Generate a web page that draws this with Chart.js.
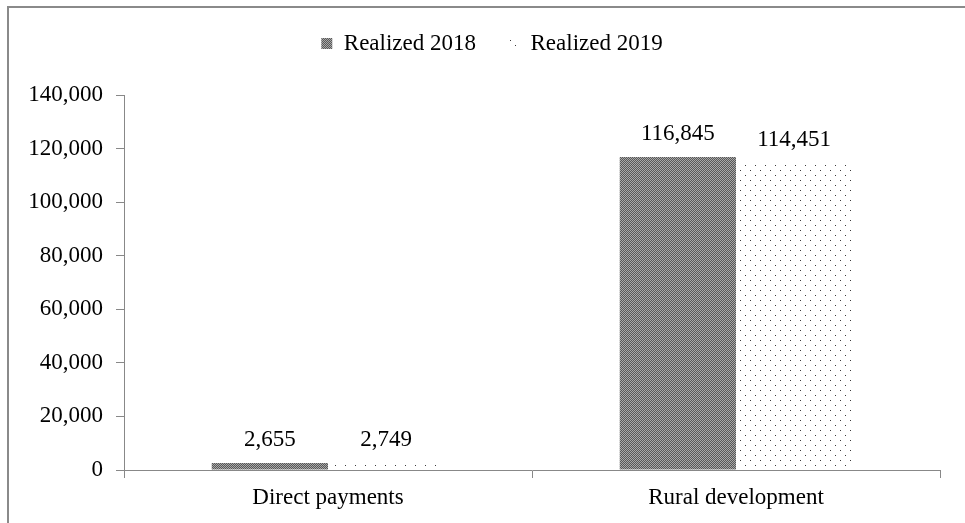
<!DOCTYPE html>
<html>
<head>
<meta charset="utf-8">
<script src="https://cdn.jsdelivr.net/npm/chart.js@4/dist/chart.umd.min.js"></script>
<style>
  html, body { margin: 0; padding: 0; background: #fff; overflow: hidden; }
  #frame { position: absolute; left: 7px; top: 6px; width: 1200px; height: 800px; border: 2px solid #8a8a8a; }
  #wrap { position: absolute; left: 0; top: 0; width: 965px; height: 523px; }
</style>
</head>
<body>
<div id="frame"></div>
<div id="wrap"><canvas id="chart"></canvas></div>
<script>
// Chart data
const categories = ['Direct payments', 'Rural development'];
const seriesNames = ['Realized 2018', 'Realized 2019'];
const realized2018 = [2655, 116845];
const realized2019 = [2749, 114451];
const yTicks = [0, 20000, 40000, 60000, 80000, 100000, 120000, 140000];

const FONT = '"Liberation Serif", "Times New Roman", serif';

// fill patterns like the original
const makePattern = (w, h, draw) => {
    const c = document.createElement('canvas');
    c.width = w;
    c.height = h;
    draw(c.getContext('2d'));
    return c.getContext('2d').createPattern(c, 'repeat');
};

const checker = makePattern(2, 2, g => {
    g.fillStyle = '#585858';
    g.fillRect(0, 0, 2, 2);
    g.fillStyle = '#a8a8a8';
    g.fillRect(0, 0, 1, 1);
    g.fillRect(1, 1, 1, 1);
});

const dots = makePattern(10, 10, g => {
    g.fillStyle = '#ffffff';
    g.fillRect(0, 0, 10, 10);
    g.fillStyle = '#3a3a3a';
    g.fillRect(0, 0, 1, 1);
    g.fillRect(5, 5, 1, 1);
});

const fmt = v => v.toLocaleString('en-US');

// value labels above the bars
const valueLabels = {
    id: 'valueLabels',
    afterDatasetsDraw(chart) {
        const ctx = chart.ctx;
        ctx.save();
        ctx.font = '23px ' + FONT;
        ctx.fillStyle = '#000';
        ctx.textAlign = 'center';
        ctx.textBaseline = 'middle';
        chart.data.datasets.forEach((ds, i) => {
            chart.getDatasetMeta(i).data.forEach((bar, j) => {
                ctx.fillText(fmt(ds.data[j]), bar.x, bar.y - 23);
            });
        });
        ctx.restore();
    }
};

// fixed legend height so the plot starts at the right place, legend nudged right
const legendFix = {
    id: 'legendFix',
    beforeInit(chart) {
        const fit = chart.legend.fit;
        chart.legend.fit = function () {
            fit.bind(chart.legend)();
            this.height = 95;
        };
    },
    afterLayout(chart) {
        chart.legend.left += 22;
        chart.legend.right += 22;
    }
};

const ctx = document.getElementById('chart');
new Chart(ctx, {
    type: 'bar',
    data: {
        labels: categories,
        datasets: [
            { label: seriesNames[0], data: realized2018, backgroundColor: checker, borderWidth: 0 },
            { label: seriesNames[1], data: realized2019, backgroundColor: dots, borderWidth: 0 }
        ]
    },
    options: {
        responsive: true,
        maintainAspectRatio: false,
        animation: false,
        layout: { padding: { top: 0, right: 25, bottom: 0, left: 0 } },
        datasets: { bar: { categoryPercentage: 0.57, barPercentage: 1.0 } },
        plugins: {
            legend: {
                position: 'top',
                labels: {
                    boxWidth: 11,
                    boxHeight: 11,
                    padding: 32,
                    color: '#000',
                    font: { family: FONT, size: 23 }
                }
            },
            tooltip: { enabled: false }
        },
        scales: {
            x: {
                grid: { display: true, drawOnChartArea: false, drawTicks: true, tickLength: 8, color: '#888', offset: true },
                border: { display: true, color: '#888', width: 1 },
                ticks: { color: '#000', padding: 6, font: { family: FONT, size: 23 } },
                afterFit(scale) { scale.height = 53; }
            },
            y: {
                min: 0,
                max: 140000,
                afterBuildTicks(scale) { scale.ticks = yTicks.map(v => ({ value: v })); },
                grid: { display: true, drawOnChartArea: false, drawTicks: true, tickLength: 8, color: '#888' },
                border: { display: true, color: '#888', width: 1 },
                ticks: { color: '#000', padding: 13, font: { family: FONT, size: 23 }, callback: v => fmt(v) },
                afterFit(scale) { scale.width = 124; }
            }
        }
    },
    plugins: [valueLabels, legendFix]
});
</script>
</body>
</html>
